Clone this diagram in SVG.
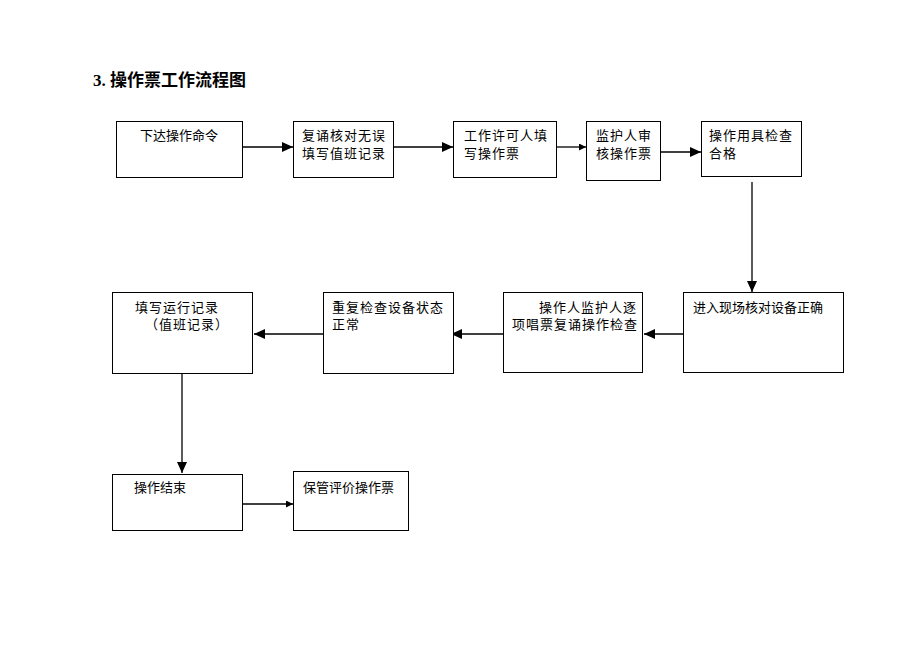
<svg xmlns="http://www.w3.org/2000/svg" width="920" height="651" viewBox="0 0 920 651">
<defs>
<marker id="big" markerUnits="userSpaceOnUse" markerWidth="12" markerHeight="10" refX="11" refY="5" orient="auto"><path d="M0,0 L11,5 L0,10 z" fill="#000"/></marker>
<marker id="small" markerUnits="userSpaceOnUse" markerWidth="7" markerHeight="7" refX="7" refY="3.5" orient="auto"><path d="M0,0 L7,3.5 L0,7 z" fill="#000"/></marker>
</defs>
<style>
.box{fill:#fff;stroke:#000;stroke-width:1}
.t{font-family:"Liberation Serif","Noto Sans CJK SC",serif;font-size:13px;fill:#000}
.s{letter-spacing:1px}
.c{fill:none;stroke:#000;stroke-width:1.3}
.title{font-family:"Liberation Serif","Noto Sans CJK SC",serif;font-size:17px;font-weight:bold;fill:#000}
</style>
<rect width="920" height="651" fill="#fff"/>
<text class="title" x="93" y="86">3. 操作票工作流程图</text>
<g id="connectors">
<line class="c" x1="243" y1="147" x2="293" y2="147" marker-end="url(#big)"/>
<line class="c" x1="394" y1="147" x2="453" y2="147" marker-end="url(#big)"/>
<line class="c" x1="557" y1="147" x2="586" y2="147" marker-end="url(#small)"/>
<line class="c" x1="661" y1="152" x2="701" y2="152" marker-end="url(#big)"/>
<line class="c" x1="752" y1="182" x2="752" y2="292" marker-end="url(#big)"/>
<line class="c" x1="683" y1="334" x2="644" y2="334" marker-end="url(#big)"/>
<line class="c" x1="503" y1="334" x2="451" y2="334" marker-end="url(#big)"/>
<line class="c" x1="323" y1="334" x2="254" y2="334" marker-end="url(#big)"/>
<line class="c" x1="182" y1="374" x2="182" y2="473" marker-end="url(#big)"/>
<line class="c" x1="243" y1="504" x2="293" y2="504" marker-end="url(#small)"/>
</g>
<g id="n1"><rect class="box" x="116.5" y="121.5" width="126" height="56"/><text class="t" x="140" y="140">下达操作命令</text></g>
<g id="n2"><rect class="box" x="293.5" y="121.5" width="100" height="56"/><text class="t s" x="302" y="140">复诵核对无误</text><text class="t s" x="302" y="158">填写值班记录</text></g>
<g id="n3"><rect class="box" x="453.5" y="121.5" width="103" height="56"/><text class="t s" x="464" y="140">工作许可人填</text><text class="t s" x="464" y="158">写操作票</text></g>
<g id="n4"><rect class="box" x="586.5" y="121.5" width="74" height="59"/><text class="t s" x="596" y="140">监护人审</text><text class="t s" x="596" y="158">核操作票</text></g>
<g id="n5"><rect class="box" x="701.5" y="121.5" width="100" height="55"/><text class="t s" x="709" y="140">操作用具检查</text><text class="t s" x="709" y="158">合格</text></g>
<g id="n6"><rect class="box" x="683.5" y="292.5" width="160" height="80"/><text class="t" x="693" y="312">进入现场核对设备正确</text></g>
<g id="n7"><rect class="box" x="503.5" y="292.5" width="139" height="80"/><text class="t s" x="539" y="312">操作人监护人逐</text><text class="t s" x="512" y="329">项唱票复诵操作检查</text></g>
<g id="n8"><rect class="box" x="323.5" y="292.5" width="130" height="81"/><text class="t s" x="332" y="312">重复检查设备状态</text><text class="t s" x="332" y="329">正常</text></g>
<g id="n9"><rect class="box" x="112.5" y="292.5" width="140" height="81"/><text class="t s" x="135" y="312">填写运行记录</text><text class="t s" x="145" y="329">（值班记录）</text></g>
<g id="n10"><rect class="box" x="112.5" y="474.5" width="130" height="56"/><text class="t" x="134" y="492">操作结束</text></g>
<g id="n11"><rect class="box" x="293.5" y="471.5" width="115" height="59"/><text class="t" x="303" y="492">保管评价操作票</text></g>
</svg>
